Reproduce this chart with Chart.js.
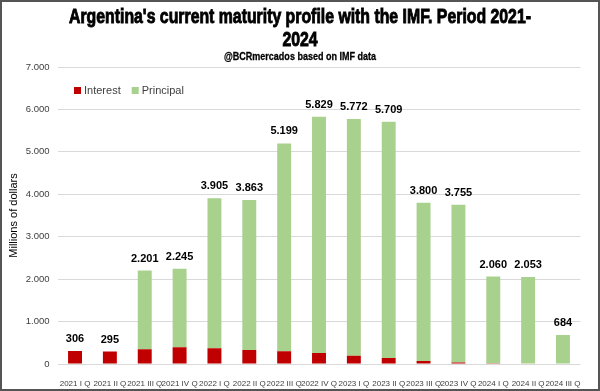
<!DOCTYPE html>
<html>
<head>
<meta charset="utf-8">
<script src="https://cdn.jsdelivr.net/npm/chart.js@4.4.1/dist/chart.umd.min.js"></script>
<style>
  html, body { margin: 0; padding: 0; background: #fff; }
  #wrap { width: 600px; height: 391px; box-sizing: border-box; border: 2px solid #555; }
  canvas { display: block; }
</style>
</head>
<body>
<div id="wrap"><canvas id="chart" width="596" height="387"></canvas></div>
<script>
// --- data ---
const categories = ['2021 I Q', '2021 II Q', '2021 III Q', '2021 IV Q', '2022 I Q', '2022 II Q', '2022 III Q', '2022 IV Q',
                    '2023 I Q', '2023 II Q', '2023 III Q', '2023 IV Q', '2024 I Q', '2024 II Q', '2024 III Q'];
const interest  = [306, 295, 350, 395, 370, 330, 300, 260, 195, 140, 70, 35, 20, 0, 0];
const principal = [0, 0, 1851, 1850, 3535, 3533, 4899, 5569, 5577, 5569, 3730, 3720, 2040, 2053, 684];
const totals    = [306, 295, 2201, 2245, 3905, 3863, 5199, 5829, 5772, 5709, 3800, 3755, 2060, 2053, 684];
const yTicks    = [0, 1000, 2000, 3000, 4000, 5000, 6000, 7000];

const titleLines = ["Argentina's current maturity profile with the IMF. Period 2021-", "2024"];
const subtitle = '@BCRmercados based on IMF data';

const fmt = v => String(v).replace(/\B(?=(\d{3})+(?!\d))/g, '.');

// draw text squeezed horizontally (the original uses a heavy condensed face)
function squeezed(ctx, text, x, y, sx, weight) {
    ctx.save();
    ctx.translate(x, y);
    ctx.scale(sx, 1);
    ctx.fillText(text, 0, 0);
    if (weight) {
        ctx.lineWidth = weight;
        ctx.strokeText(text, 0, 0);
    }
    ctx.restore();
}

// title + subtitle
const titlePlugin = {
    id: 'titles',
    afterDraw(chart) {
        const ctx = chart.ctx;
        const cx = chart.width / 2;
        ctx.save();
        ctx.fillStyle = '#000';
        ctx.strokeStyle = '#000';
        ctx.textAlign = 'center';
        ctx.textBaseline = 'middle';
        ctx.font = 'bold 20px "Liberation Sans"';
        const sx = 462 / ctx.measureText(titleLines[0]).width;
        squeezed(ctx, titleLines[0], cx, 15, sx, 0.9);
        squeezed(ctx, titleLines[1], cx, 38.5, sx, 0.9);
        ctx.font = 'bold 11px "Liberation Sans"';
        squeezed(ctx, subtitle, cx, 54.5, 152 / ctx.measureText(subtitle).width, 0.3);
        ctx.restore();
    }
};

// totals above each stacked bar
const totalsPlugin = {
    id: 'totals',
    afterDatasetsDraw(chart) {
        const ctx = chart.ctx;
        const meta = chart.getDatasetMeta(chart.data.datasets.length - 1);
        const y = chart.scales.y;
        ctx.save();
        ctx.fillStyle = '#000';
        ctx.font = 'bold 11px "Liberation Sans"';
        ctx.textAlign = 'center';
        ctx.textBaseline = 'middle';
        totals.forEach((t, i) => {
            ctx.fillText(fmt(t), meta.data[i].x, y.getPixelForValue(t) - 12);
        });
        ctx.restore();
    }
};

// small legend inside the plot, top-left
const legendPlugin = {
    id: 'miniLegend',
    afterDraw(chart) {
        const ctx = chart.ctx;
        let x = 72;
        const cy = 88;
        ctx.save();
        ctx.font = '11px "Liberation Sans"';
        ctx.textBaseline = 'middle';
        chart.data.datasets.forEach(ds => {
            ctx.fillStyle = ds.backgroundColor;
            ctx.fillRect(x, cy - 3, 7, 7);
            ctx.fillStyle = '#404040';
            ctx.fillText(ds.label, x + 10, cy + 1);
            x += 10 + ctx.measureText(ds.label).width + 11;
        });
        ctx.restore();
    }
};

new Chart(document.getElementById('chart'), {
    type: 'bar',
    data: {
        labels: categories,
        datasets: [
            { label: 'Interest', data: interest, backgroundColor: '#C00000' },
            { label: 'Principal', data: principal, backgroundColor: '#A9D18E' }
        ]
    },
    options: {
        responsive: false,
        animation: false,
        layout: { padding: { top: 65, right: 17.6, left: 0, bottom: 0 } },
        datasets: { bar: { barPercentage: 0.4, categoryPercentage: 1 } },
        plugins: {
            legend: { display: false },
            title: { display: false },
            tooltip: { enabled: false }
        },
        scales: {
            x: {
                stacked: true,
                grid: { display: false },
                border: { display: false },
                ticks: {
                    autoSkip: false, maxRotation: 0, minRotation: 0, padding: 7,
                    color: '#404040', font: { family: 'Liberation Sans', size: 8 }
                },
                afterFit(s) { s.height = 25; }
            },
            y: {
                stacked: true,
                min: 0, max: 7000,
                afterBuildTicks(s) { s.ticks = yTicks.map(v => ({ value: v })); },
                grid: { color: '#D9D9D9', drawTicks: false },
                border: { display: false },
                ticks: {
                    padding: 8, color: '#404040',
                    font: { family: 'Liberation Sans', size: 9.5 },
                    callback: v => fmt(v)
                },
                title: {
                    display: true, text: 'Millions of dollars', color: '#000',
                    font: { family: 'Liberation Sans', size: 11 }, padding: { top: 5, bottom: 0 }
                },
                afterFit(s) { s.width = 55.6; }
            }
        }
    },
    plugins: [titlePlugin, totalsPlugin, legendPlugin]
});
</script>
</body>
</html>
